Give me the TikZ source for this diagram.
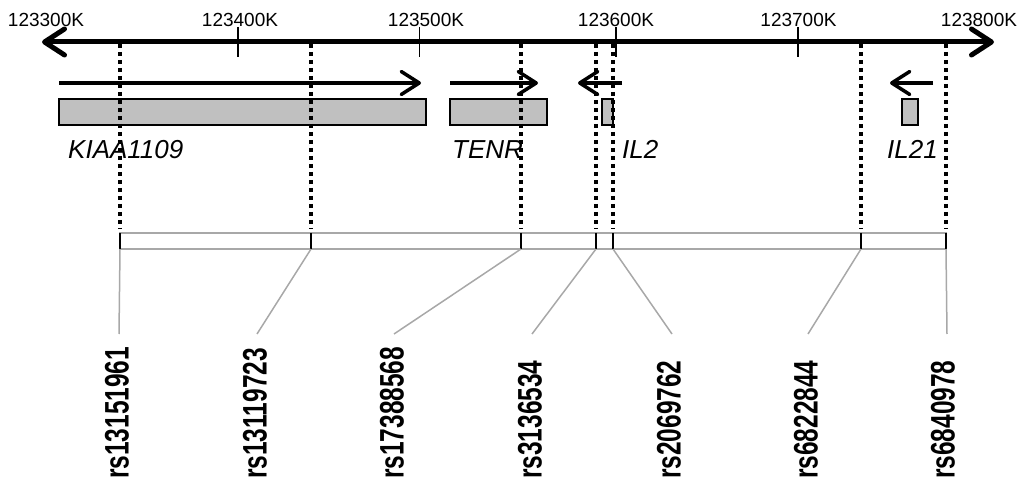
\documentclass[tikz,border=0pt]{standalone}
\usepackage{fontspec}
\setmainfont{Liberation Sans}
\newfontfamily\snpfont[FakeStretch=0.72]{Liberation Sans}
\usetikzlibrary{arrows.meta}
\definecolor{boxgray}{HTML}{C0C0C0}
\definecolor{bargray}{HTML}{A8A8A8}
\begin{document}
\begin{tikzpicture}[x=1pt,y=-1pt,
  axisline/.style={line width=5pt,
    {Straight Barb[length=20pt,width=26pt,round]}-{Straight Barb[length=20pt,width=26pt,round]}},
  tickline/.style={line width=1.6pt},
  axislabel/.style={anchor=base,inner sep=0pt,font=\fontsize{19}{19}\selectfont},
  genearrow/.style={line width=3.5pt,-{Straight Barb[length=18pt,width=23pt,round]}},
  genebox/.style={draw=black,fill=boxgray,line width=1.2pt},
  genelabel/.style={anchor=base west,inner sep=0pt,font=\itshape\fontsize{26}{26}\selectfont},
  dotline/.style={line width=3.8pt,dash pattern=on 4pt off 4pt},
  snpbar/.style={draw=bargray,line width=1.6pt,fill=white},
  snptick/.style={line width=2pt},
  conn/.style={draw=bargray,line width=1.5pt},
  snp/.style={rotate=90,anchor=west,inner sep=0pt,font=\snpfont\bfseries\fontsize{34}{34}\selectfont}
]
\useasboundingbox (0,0) rectangle (1021,481);

% chromosome axis
\coordinate (axL) at (42,42);
\coordinate (axR) at (994,42);
\draw[axisline] (axL) -- (axR);
\foreach \x/\n in {237.7/a1,419.3/a2,616/a3,797.7/a4}{
  \coordinate (\n t) at (\x,27);
  \coordinate (\n b) at (\x,57);
  \draw[tickline] (\n t) -- (\n b);
}
\node[axislabel] (l0) at (46,27) {123300K};
\node[axislabel] (l1) at (240,27) {123400K};
\node[axislabel] (l2) at (426,27) {123500K};
\node[axislabel] (l3) at (616,27) {123600K};
\node[axislabel] (l4) at (798.5,27) {123700K};
\node[axislabel] (l5) at (979,27) {123800K};

% gene direction arrows
\coordinate (g1s) at (59,83);  \coordinate (g1e) at (421,83);
\coordinate (g2s) at (450,83); \coordinate (g2e) at (538,83);
\coordinate (g3s) at (622,83); \coordinate (g3e) at (578,83);
\coordinate (g4s) at (933,83); \coordinate (g4e) at (890,83);
\draw[genearrow] (g1s) -- (g1e);
\draw[genearrow] (g2s) -- (g2e);
\draw[genearrow] (g3s) -- (g3e);
\draw[genearrow] (g4s) -- (g4e);

% gene boxes
\draw[genebox] (59,99) rectangle (426,125);
\draw[genebox] (450,99) rectangle (547,125);
\draw[genebox] (602,99) rectangle (613,125);
\draw[genebox] (902,99) rectangle (918,125);

% gene labels
\node[genelabel] (n1) at (68,159) {KIAA1109};
\node[genelabel] (n2) at (452,159) {TENR};
\node[genelabel] (n3) at (622,159) {IL2};
\node[genelabel] (n4) at (887,159) {IL21};

% SNP bar
\draw[snpbar] (120,233) rectangle (946,249);

% SNPs
\foreach \i/\x/\lx/\tx/\name in {
  1/120/119/117/rs13151961,
  2/311/257/255/rs13119723,
  3/521/394/392/rs17388568,
  4/596/532/530/rs3136534,
  5/613/672/669/rs2069762,
  6/861/808/806/rs6822844,
  7/946/947/943/rs6840978}{
  \coordinate (d\i) at (\x,44);
  \coordinate (t\i) at (\x,233);
  \coordinate (b\i) at (\x,249);
  \coordinate (c\i) at (\lx,334);
  \draw[dotline] (d\i) -- (\x,229);
  \draw[snptick] (t\i) -- (b\i);
  \draw[conn] (b\i) -- (c\i);
  \node[snp] (s\i) at (\tx,479) {\name};
}
\end{tikzpicture}
\end{document}
